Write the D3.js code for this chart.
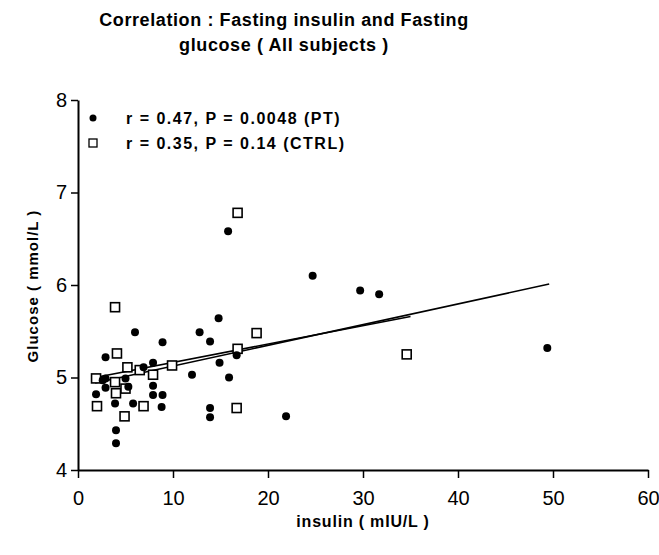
<!DOCTYPE html>
<html>
<head>
<meta charset="utf-8">
<script src="https://cdn.jsdelivr.net/npm/d3@7"></script>
<style>
  body { margin: 0; background: #fff; }
  text { font-family: "Liberation Sans", Arial, sans-serif; fill: #000; }
</style>
</head>
<body>
<div id="chart"></div>
<script>
// patients (filled circles): [insulin, glucose]
const ptPoints = [
  [2.9, 5.22], [6.0, 5.49], [8.9, 5.38], [12.8, 5.49], [13.9, 5.39],
  [14.8, 5.64], [15.8, 6.58], [7.9, 5.16], [6.9, 5.11], [14.9, 5.16],
  [16.7, 5.24], [12.0, 5.03], [15.9, 5.00], [2.6, 4.97], [1.9, 4.82],
  [3.9, 4.72], [5.8, 4.72], [8.8, 4.68], [4.0, 4.43], [4.0, 4.29],
  [7.9, 4.91], [7.9, 4.81], [8.9, 4.81], [13.9, 4.67], [13.9, 4.57],
  [24.7, 6.10], [29.7, 5.94], [31.7, 5.90], [49.4, 5.32], [21.9, 4.58],
  [2.9, 4.99], [5.0, 4.99], [5.3, 4.90], [2.9, 4.89]
];
// controls (open squares)
const ctrlPoints = [
  [3.9, 5.76], [4.1, 5.26], [5.2, 5.11], [9.9, 5.13], [1.9, 4.99],
  [6.9, 4.69], [2.0, 4.69], [4.9, 4.58], [16.8, 6.78], [18.8, 5.48],
  [16.8, 5.31], [7.9, 5.03], [16.7, 4.67], [34.6, 5.25], [3.9, 4.95],
  [4.0, 4.83], [5.0, 4.88], [6.5, 5.08]
];
// regression lines, end points
const ptFit = [[1.8, 4.94], [49.6, 6.01]];
const ctrlFit = [[1.8, 5.00], [35, 5.66]];

const xTicks = [0, 10, 20, 30, 40, 50, 60];
const yTicks = [4, 5, 6, 7, 8];
const legendItems = [
  {shape: "circle", label: "r = 0.47, P = 0.0048 (PT)"},
  {shape: "square", label: "r = 0.35, P = 0.14 (CTRL)"}
];

const W = 659, H = 555;
const margin = {left: 78, right: 11, top: 100, bottom: 85};

const svg = d3.select("#chart").append("svg")
  .attr("width", W).attr("height", H);

const x = d3.scaleLinear().domain([0, 60]).range([margin.left, W - margin.right]);
const y = d3.scaleLinear().domain([4, 8]).range([H - margin.bottom, margin.top]);

// title
const title = ["Correlation : Fasting insulin and Fasting", "glucose ( All subjects )"];
title.forEach((t, i) => {
  svg.append("text")
    .attr("x", 284).attr("y", 26 + i * 25)
    .attr("text-anchor", "middle")
    .style("font-size", "18px").style("font-weight", "bold")
    .style("letter-spacing", "0.6px")
    .text(t);
});

// axes
const xAxis = d3.axisBottom(x).tickValues(xTicks).tickSize(8).tickSizeOuter(0)
  .tickFormat(d3.format("d"));
const yAxis = d3.axisLeft(y).tickValues(yTicks).tickSize(7).tickSizeOuter(0)
  .tickFormat(d3.format("d"));

const gx = svg.append("g")
  .attr("transform", `translate(0,${y(4)})`)
  .call(xAxis);
const gy = svg.append("g")
  .attr("transform", `translate(${x(0)},0)`)
  .call(yAxis);

[gx, gy].forEach(g => {
  g.select(".domain").attr("stroke", "#000").attr("stroke-width", 2);
  g.selectAll(".tick line").attr("stroke", "#000").attr("stroke-width", 1.5);
  g.selectAll(".tick text")
    .style("font-size", "20px")
    .style("font-family", "'Liberation Sans', Arial, sans-serif")
    .attr("fill", "#000");
});
gx.selectAll(".tick text").attr("dy", "1.2em");
gy.selectAll(".tick text").attr("dx", "-0.05em");

// axis titles
svg.append("text")
  .attr("x", 363).attr("y", 527)
  .attr("text-anchor", "middle")
  .style("font-size", "16px").style("font-weight", "bold")
  .style("letter-spacing", "0.8px")
  .text("insulin ( mIU/L )");
svg.append("text")
  .attr("transform", `translate(38,286) rotate(-90)`)
  .attr("text-anchor", "middle")
  .style("font-size", "15px").style("font-weight", "bold")
  .style("letter-spacing", "1px")
  .text("Glucose ( mmol/L )");

// regression lines
const line = d3.line().x(d => x(d[0])).y(d => y(d[1]));
svg.append("path").datum(ctrlFit)
  .attr("d", line).attr("fill", "none")
  .attr("stroke", "#000").attr("stroke-width", 1.6);
svg.append("path").datum(ptFit)
  .attr("d", line).attr("fill", "none")
  .attr("stroke", "#000").attr("stroke-width", 1.6);

// control squares
svg.append("g").selectAll("rect")
  .data(ctrlPoints).join("rect")
  .attr("x", d => x(d[0]) - 4.5).attr("y", d => y(d[1]) - 4.5)
  .attr("width", 9).attr("height", 9)
  .attr("fill", "#fff").attr("stroke", "#000").attr("stroke-width", 1.6);

// patient circles
svg.append("g").selectAll("circle")
  .data(ptPoints).join("circle")
  .attr("cx", d => x(d[0])).attr("cy", d => y(d[1]))
  .attr("r", 4).attr("fill", "#000");

// legend
const lg = svg.append("g").attr("transform", "translate(93,118)");
legendItems.forEach((d, i) => {
  const g = lg.append("g").attr("transform", `translate(0,${i * 25})`);
  if (d.shape === "circle") {
    g.append("circle").attr("r", 3.5).attr("fill", "#000");
  } else {
    g.append("rect").attr("x", -4).attr("y", -4).attr("width", 8).attr("height", 8)
      .attr("fill", "#fff").attr("stroke", "#000").attr("stroke-width", 1.3);
  }
  g.append("text")
    .attr("x", 33).attr("y", 6)
    .style("font-size", "16px").style("font-weight", "bold")
    .style("letter-spacing", "1.5px")
    .text(d.label);
});
</script>
</body>
</html>
